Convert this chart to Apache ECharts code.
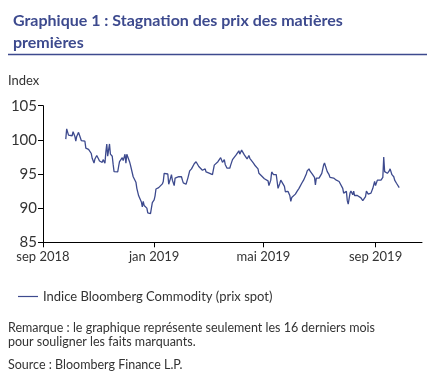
<!DOCTYPE html>
<html>
<head>
<meta charset="utf-8">
<script src="https://cdn.jsdelivr.net/npm/echarts@6/dist/echarts.min.js"></script>
<style>
  html, body { margin: 0; padding: 0; background: #fff; }
  #chart { width: 436px; height: 376px; }
</style>
</head>
<body>
<div id="chart"></div>
<script>
// Indice Bloomberg Commodity (prix spot)
const dates = [
  '2018-09-26','2018-09-27','2018-09-29','2018-10-01','2018-10-03','2018-10-04','2018-10-06','2018-10-07','2018-10-08','2018-10-10',
  '2018-10-11','2018-10-13','2018-10-15','2018-10-17','2018-10-18','2018-10-20','2018-10-21','2018-10-23','2018-10-24','2018-10-25',
  '2018-10-27','2018-10-28','2018-10-30','2018-11-01','2018-11-02','2018-11-04','2018-11-05','2018-11-06','2018-11-08','2018-11-09',
  '2018-11-10','2018-11-11','2018-11-12','2018-11-13','2018-11-14','2018-11-16','2018-11-17','2018-11-18','2018-11-20','2018-11-22',
  '2018-11-23','2018-11-24','2018-11-26','2018-11-27','2018-11-28','2018-11-30','2018-12-01','2018-12-02','2018-12-04','2018-12-05',
  '2018-12-06','2018-12-08','2018-12-09','2018-12-11','2018-12-12','2018-12-13','2018-12-14','2018-12-15','2018-12-16','2018-12-18',
  '2018-12-19','2018-12-20','2018-12-21','2018-12-22','2018-12-24','2018-12-25','2018-12-27','2018-12-28','2018-12-29','2018-12-30',
  '2019-01-01','2019-01-02','2019-01-03','2019-01-05','2019-01-06','2019-01-08','2019-01-10','2019-01-11','2019-01-12','2019-01-14',
  '2019-01-16','2019-01-17','2019-01-19','2019-01-20','2019-01-21','2019-01-23','2019-01-24','2019-01-26','2019-01-28','2019-01-29',
  '2019-01-31','2019-02-01','2019-02-02','2019-02-04','2019-02-05','2019-02-07','2019-02-08','2019-02-09','2019-02-11','2019-02-13',
  '2019-02-14','2019-02-16','2019-02-17','2019-02-19','2019-02-20','2019-02-23','2019-02-26','2019-02-27','2019-02-28','2019-03-03',
  '2019-03-05','2019-03-06','2019-03-08','2019-03-10','2019-03-12','2019-03-15','2019-03-17','2019-03-19','2019-03-20','2019-03-22',
  '2019-03-25','2019-03-26','2019-03-28','2019-03-30','2019-04-01','2019-04-02','2019-04-04','2019-04-05','2019-04-07','2019-04-08',
  '2019-04-10','2019-04-12','2019-04-13','2019-04-15','2019-04-16','2019-04-18','2019-04-20','2019-04-22','2019-04-24','2019-04-25',
  '2019-04-26','2019-04-28','2019-04-29','2019-05-02','2019-05-04','2019-05-06','2019-05-07','2019-05-09','2019-05-10','2019-05-12',
  '2019-05-14','2019-05-15','2019-05-16','2019-05-17','2019-05-19','2019-05-20','2019-05-22','2019-05-24','2019-05-25','2019-05-27',
  '2019-05-28','2019-05-30','2019-05-31','2019-06-01','2019-06-03','2019-06-05','2019-06-07','2019-06-09','2019-06-10','2019-06-12',
  '2019-06-14','2019-06-15','2019-06-17','2019-06-18','2019-06-20','2019-06-21','2019-06-23','2019-06-24','2019-06-26','2019-06-27',
  '2019-06-28','2019-06-30','2019-07-01','2019-07-03','2019-07-04','2019-07-06','2019-07-07','2019-07-09','2019-07-10','2019-07-12',
  '2019-07-13','2019-07-15','2019-07-17','2019-07-18','2019-07-20','2019-07-22','2019-07-23','2019-07-25','2019-07-27','2019-07-28',
  '2019-07-30','2019-07-31','2019-08-01','2019-08-02','2019-08-04','2019-08-05','2019-08-07','2019-08-08','2019-08-09','2019-08-11',
  '2019-08-12','2019-08-14','2019-08-16','2019-08-18','2019-08-20','2019-08-21','2019-08-22','2019-08-24','2019-08-25','2019-08-27',
  '2019-08-29','2019-08-31','2019-09-01','2019-09-03','2019-09-05','2019-09-07','2019-09-09','2019-09-10','2019-09-11','2019-09-13',
  '2019-09-14','2019-09-16','2019-09-17','2019-09-19','2019-09-21','2019-09-22','2019-09-24','2019-09-27'
];
const values = [
  100.1,101.6,100.7,100.9,100.6,101.2,100.5,99.8,100.5,101.1,
  100.7,99.9,99.7,99.8,98.8,98.9,98.6,98.7,98.0,97.3,
  96.6,97.2,97.7,97.2,96.9,97.0,96.7,97.1,96.6,98.2,
  99.4,97.6,98.5,99.4,97.9,97.6,96.4,95.35,95.45,95.3,
  96.1,96.8,96.6,97.4,96.95,97.9,96.6,97.9,97.8,96.8,
  96.3,96.1,94.6,94.4,93.8,92.9,92.7,91.8,91.7,90.9,
  90.2,91.0,90.4,90.3,90.0,89.3,89.4,89.2,90.0,90.8,
  91.2,91.8,92.8,92.7,93.0,93.2,93.55,93.9,95.1,95.1,
  95.0,93.5,94.4,94.9,94.1,93.3,94.4,94.4,94.6,94.5,
  94.6,94.1,93.7,93.7,93.5,94.4,94.5,95.45,95.75,95.55,
  96.5,96.8,96.7,96.1,96.0,95.55,95.75,95.3,95.55,95.1,
  95.3,94.9,96.3,96.5,96.8,97.4,96.7,97.1,96.4,95.85,
  95.85,96.3,97.1,97.25,97.8,97.7,98.4,97.9,98.5,98.5,
  97.8,97.55,97.2,97.7,97.3,97.1,96.6,96.2,96.0,95.75,
  95.1,95.3,94.7,94.3,94.1,94.0,93.3,94.1,95.3,94.9,
  95.1,94.9,93.9,92.9,93.65,94.1,94.3,93.2,92.4,92.2,
  92.45,91.8,91.0,91.55,91.7,92.05,92.5,92.9,92.9,93.65,
  94.1,94.3,95.0,95.45,95.75,95.45,95.6,94.9,94.5,93.4,
  94.4,94.6,94.4,94.4,95.1,96.3,96.6,96.7,95.35,94.9,
  94.5,94.6,94.4,94.5,94.1,94.3,93.9,94.1,92.9,92.2,
  91.95,92.45,91.1,90.6,92.2,92.5,91.95,92.5,91.85,91.95,
  91.85,91.8,91.5,91.1,91.0,91.7,92.5,92.05,92.2,92.2,
  92.9,93.9,93.3,94.1,94.3,94.1,94.5,97.5,95.35,95.6,
  95.1,95.45,95.75,94.9,94.6,94.1,93.65,93.0
];
const tickDates = ['2018-09-01', '2019-01-01', '2019-05-01', '2019-09-01'];
const monthNames = ['jan', 'fév', 'mar', 'avr', 'mai', 'jun', 'jul', 'aoû', 'sep', 'oct', 'nov', 'déc'];
const yTicks = { min: 85, max: 105, interval: 5 };

const toTime = s => {
  const p = s.split('-').map(Number);
  return new Date(p[0], p[1] - 1, p[2]).getTime();
};

const navy = '#3d4a8e';
const textColor = '#333333';
const fontFamily = 'Lato, "Open Sans", sans-serif';

const chart = echarts.init(document.getElementById('chart'), null, { renderer: 'canvas' });

const option = {
  animation: false,
  backgroundColor: '#ffffff',
  title: {
    text: 'Graphique 1 : Stagnation des prix des matières\npremières',
    left: 8,
    top: 5,
    textStyle: {
      fontFamily: fontFamily,
      fontSize: 16,
      fontWeight: 'bold',
      color: navy,
      lineHeight: 22
    }
  },
  legend: {
    left: 13,
    top: 285,
    icon: 'rect',
    itemWidth: 20,
    itemHeight: 1.2,
    textStyle: { fontFamily: fontFamily, fontSize: 13, color: textColor },
    data: ['Indice Bloomberg Commodity (prix spot)']
  },
  grid: {
    left: 43,
    right: 14,
    top: 105.7,
    bottom: 133.7,
    containLabel: false
  },
  xAxis: {
    type: 'value',
    min: toTime('2018-09-01'),
    max: toTime('2019-10-22'),
    axisLine: { lineStyle: { color: '#000', width: 1 } },
    axisTick: {
      show: true,
      length: 5,
      lineStyle: { color: '#000' },
      customValues: tickDates.map(toTime)
    },
    axisLabel: {
      customValues: tickDates.map(toTime),
      margin: 8,
      fontFamily: fontFamily,
      fontSize: 13,
      color: textColor,
      formatter: function (v) {
        const d = new Date(v);
        return monthNames[d.getMonth()] + ' ' + d.getFullYear();
      }
    },
    splitLine: { show: false }
  },
  yAxis: {
    type: 'value',
    min: yTicks.min,
    max: yTicks.max,
    interval: yTicks.interval,
    name: 'Index',
    nameLocation: 'end',
    nameGap: 18,
    nameTextStyle: {
      fontFamily: fontFamily,
      fontSize: 13,
      color: textColor,
      align: 'left',
      padding: [0, 0, 0, -35]
    },
    axisLine: { show: true, lineStyle: { color: '#000', width: 1 } },
    axisTick: { show: true, length: 5, lineStyle: { color: '#000' } },
    axisLabel: {
      margin: 6,
      fontFamily: fontFamily,
      fontSize: 15,
      color: textColor
    },
    splitLine: { show: false }
  },
  series: [
    {
      name: 'Indice Bloomberg Commodity (prix spot)',
      type: 'line',
      data: dates.map((d, i) => [toTime(d), values[i]]),
      showSymbol: false,
      symbol: 'none',
      lineStyle: { color: navy, width: 1.3 },
      itemStyle: { color: navy }
    }
  ],
  graphic: [
    {
      type: 'line',
      shape: { x1: 8, y1: 54.5, x2: 427, y2: 54.5 },
      style: { stroke: navy, lineWidth: 1.5 }
    },
    {
      type: 'text',
      left: 8,
      top: 321,
      style: {
        text: 'Remarque : le graphique représente seulement les 16 derniers mois\npour souligner les faits marquants.',
        font: '12.5px ' + fontFamily,
        fill: textColor,
        lineHeight: 14
      }
    },
    {
      type: 'text',
      left: 8,
      top: 358,
      style: {
        text: 'Source : Bloomberg Finance L.P.',
        font: '12.5px ' + fontFamily,
        fill: textColor
      }
    }
  ]
};

chart.setOption(option);
</script>
</body>
</html>
